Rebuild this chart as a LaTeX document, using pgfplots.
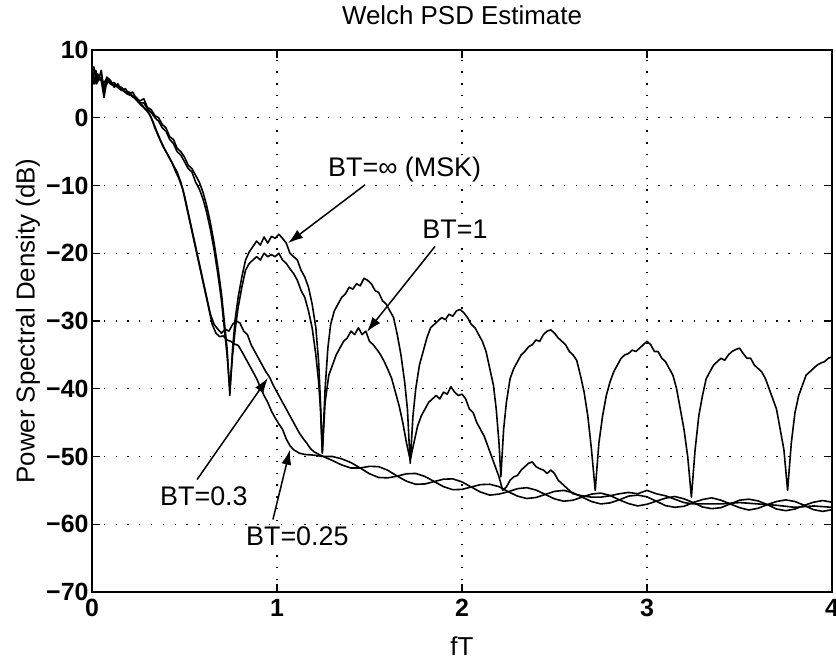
\documentclass[border=0pt]{standalone}
\usepackage{pgfplots}
\pgfplotsset{compat=1.18}
\usepackage{fontspec}
\setmainfont{Liberation Sans}
\usetikzlibrary{arrows.meta}
\tikzset{psd/.style={black, line width=1.6bp, mark=none, line join=round}}
\begin{document}
\begin{tikzpicture}
\begin{axis}[
  scale only axis, width=740bp, height=542bp,
  xmin=0, xmax=4, ymin=-70, ymax=10,
  xtick={0,1,2,3,4}, xticklabels={0,1,2,3,4},
  ytick={-70,-60,-50,-40,-30,-20,-10,0,10},
  yticklabels={−70,−60,−50,−40,−30,−20,−10,0,10},
  tick label style={font=\fontsize{25}{25}\selectfont\bfseries},
  xticklabel style={yshift=-4bp},
  grid=major,
  grid style={black, line width=1.1bp, dash pattern=on 1.3bp off 10.5bp},
  axis line style={line width=1.8bp},
  tick align=inside, major tick length=8bp, tick style={black, line width=1.2bp},
  title={Welch PSD Estimate},
  title style={font=\fontsize{26}{26}\selectfont, at={(axis description cs:0.5,1.053)}, anchor=center},
  xlabel={fT},
  xlabel style={font=\fontsize{26}{26}\selectfont, at={(axis description cs:0.5,-0.0995)}, anchor=center},
  ylabel={Power Spectral Density (dB)},
  ylabel style={font=\fontsize{26}{26}\selectfont, at={(axis description cs:-0.0865,0.5)}, anchor=center},
]
% MSK (BT = infinity)
\addplot[psd] table {
x y
0 7.5
0.01 5
0.02 6.5
0.035 5.5
0.05 7
0.065 4
0.08 6
0.1 5.5
0.12 4.5
0.14 5
0.16 4
0.18 4.3
0.2 3.5
0.22 3.8
0.24 2.8
0.26 2.5
0.28 2.8
0.3 1.5
0.32 1.2
0.34 0.3
0.36 0
0.38 -1
0.4 -1.5
0.42 -2.8
0.44 -3.2
0.46 -4.5
0.48 -5
0.5 -5.8
0.52 -7
0.54 -7.5
0.56 -8.5
0.58 -9.5
0.6 -11
0.62 -13
0.64 -15.5
0.66 -18.5
0.68 -22
0.7 -26
0.715 -30
0.73 -34
0.745 -41
0.76 -34
0.775 -29.5
0.79 -26.5
0.81 -23.5
0.83 -21
0.85 -19.8
0.87 -19
0.89 -18.2
0.91 -18.8
0.93 -17.6
0.95 -18.5
0.97 -17.5
0.99 -17.8
1.01 -17.2
1.03 -17.8
1.05 -18.5
1.07 -20
1.09 -20.5
1.11 -21
1.13 -22.5
1.15 -23.5
1.17 -25
1.19 -27.5
1.21 -31
1.225 -36
1.235 -42
1.245 -49.5
1.26 -40
1.275 -34
1.29 -30.5
1.31 -28.5
1.33 -27.5
1.35 -26.5
1.37 -26
1.39 -25
1.41 -25.3
1.43 -24.5
1.45 -24.8
1.47 -23.7
1.49 -24
1.51 -24.5
1.53 -25.5
1.55 -25.8
1.57 -27
1.59 -27.5
1.61 -28.5
1.63 -29.5
1.65 -32
1.67 -35
1.69 -39
1.705 -43
1.72 -51
1.735 -44
1.75 -40
1.77 -36.5
1.79 -34.5
1.81 -32.5
1.83 -31
1.85 -30.5
1.87 -30
1.89 -29.5
1.91 -29.8
1.93 -29
1.95 -29.3
1.97 -28.5
1.99 -28.3
2.01 -28.8
2.03 -29.5
2.05 -30.5
2.07 -31
2.09 -32
2.11 -33
2.13 -34.5
2.15 -37
2.17 -39.5
2.185 -43
2.2 -48
2.21 -53
2.225 -46
2.24 -42
2.26 -38.5
2.28 -37
2.3 -36
2.32 -35
2.34 -34.5
2.36 -33.8
2.38 -33.5
2.4 -32.8
2.42 -33
2.44 -32
2.46 -31.5
2.48 -31.3
2.5 -31.8
2.52 -32.5
2.54 -33
2.56 -33.5
2.58 -34.5
2.6 -35
2.62 -35.8
2.64 -38
2.66 -40.5
2.68 -44
2.7 -49
2.72 -55
2.74 -48
2.76 -44
2.78 -41
2.8 -39
2.82 -37.5
2.84 -36.5
2.86 -35.5
2.88 -35
2.9 -34.8
2.92 -34.3
2.94 -34.5
2.96 -34
2.98 -33.5
3.0 -33
3.02 -33.5
3.04 -34.5
3.06 -34.5
3.08 -35.5
3.1 -36
3.12 -37
3.14 -38
3.16 -40
3.18 -43
3.2 -46
3.22 -50
3.24 -56
3.26 -49
3.28 -44
3.3 -41
3.32 -38.5
3.34 -37.5
3.36 -36.5
3.38 -36
3.4 -35.5
3.42 -35.8
3.44 -35
3.46 -34.5
3.48 -34.2
3.5 -34
3.52 -34.8
3.54 -35.5
3.56 -35.5
3.58 -36.5
3.6 -37
3.62 -37.5
3.64 -38.5
3.66 -40
3.68 -41.5
3.7 -43
3.72 -46
3.74 -49
3.76 -55
3.78 -48
3.8 -43.5
3.82 -41
3.84 -39.5
3.86 -38
3.88 -37.5
3.9 -37
3.92 -36.5
3.94 -36.2
3.96 -36
3.98 -35.5
4.0 -35.3
};
% BT = 1
\addplot[psd] table {
x y
0 6.5
0.01 7.5
0.025 5
0.04 6
0.06 5
0.08 5.8
0.1 5
0.12 4.8
0.14 4.5
0.16 4.2
0.18 3.8
0.2 3.8
0.22 3.2
0.24 3
0.26 2.2
0.28 2.2
0.3 1.3
0.32 0.8
0.34 0
0.36 -0.5
0.38 -1.5
0.4 -2
0.42 -3.2
0.44 -3.8
0.46 -5
0.48 -5.5
0.5 -6.5
0.52 -7.5
0.54 -8
0.56 -9.5
0.58 -10.5
0.6 -12
0.62 -14
0.64 -16.5
0.66 -19.5
0.68 -23
0.7 -27
0.715 -31
0.73 -35
0.745 -40
0.76 -35
0.775 -31
0.79 -28
0.81 -25
0.83 -22.5
0.85 -21.5
0.87 -21
0.89 -20.5
0.91 -21
0.93 -20
0.95 -20.5
0.97 -20.2
0.99 -20.5
1.01 -20
1.03 -21
1.05 -21.5
1.07 -22.3
1.09 -23
1.11 -24
1.13 -25.5
1.15 -26.5
1.17 -28.5
1.19 -31
1.21 -35
1.225 -39
1.235 -43
1.245 -49.5
1.26 -42
1.28 -38
1.3 -36.5
1.32 -35
1.34 -34
1.36 -33
1.38 -32.5
1.4 -31.5
1.42 -32
1.44 -31
1.46 -32
1.48 -31.5
1.5 -33
1.52 -33.5
1.54 -34.2
1.56 -35
1.58 -36
1.6 -37.2
1.62 -38.5
1.64 -40.5
1.66 -42.5
1.68 -45
1.7 -48
1.72 -50.5
1.74 -48
1.76 -45.5
1.78 -44
1.8 -43
1.82 -42
1.84 -41.5
1.86 -41
1.88 -41.5
1.9 -40.5
1.92 -40.8
1.94 -39.7
1.96 -40.5
1.98 -41
2.0 -40.8
2.02 -41.5
2.04 -43
2.06 -43.5
2.08 -45
2.1 -46
2.12 -47
2.14 -48.5
2.16 -50
2.18 -51.5
2.2 -53
2.22 -55
2.24 -54.5
2.26 -53.5
2.28 -53
2.3 -52.8
2.32 -52
2.34 -51.5
2.36 -51
2.38 -50.8
2.4 -51.5
2.42 -51.8
2.44 -52
2.46 -52.5
2.48 -52
2.5 -52.5
2.52 -53.5
2.54 -54
2.56 -54.5
2.58 -55
2.6 -55.5
2.65 -55.8
2.7 -56
2.75 -56
2.8 -55.8
2.85 -55.5
2.9 -55.3
2.95 -55.5
3.0 -55
3.05 -55.5
3.1 -55.8
3.15 -56.3
3.2 -56.8
3.25 -57
3.3 -57
3.4 -57
3.5 -56.8
3.6 -57
3.7 -57.2
3.8 -57.5
3.9 -57.3
4.0 -57.5
};
% BT = 0.3
\addplot[psd] table {
x y
0 7
0.015 5
0.03 6.5
0.05 5.5
0.065 3
0.08 5.5
0.1 5
0.12 5.2
0.14 4.5
0.16 4.5
0.18 3.8
0.2 3.5
0.22 3.2
0.24 2.8
0.26 2
0.28 1.5
0.3 1
0.32 0
0.34 -1.5
0.36 -2.8
0.38 -4
0.4 -5
0.42 -6
0.44 -7
0.46 -8
0.48 -9.5
0.5 -11.5
0.52 -14
0.54 -16.5
0.56 -19
0.58 -21.5
0.6 -24
0.62 -26.5
0.64 -29
0.66 -30.5
0.68 -31.2
0.7 -31.8
0.72 -31.2
0.74 -31.5
0.76 -30.5
0.78 -30
0.8 -30.3
0.82 -31.5
0.84 -32
0.86 -33.5
0.88 -34.5
0.9 -35.5
0.92 -36.5
0.94 -37.5
0.96 -38.3
0.98 -39.5
1.0 -40.5
1.02 -41.5
1.04 -42.5
1.06 -43.5
1.08 -44.5
1.1 -45.5
1.12 -46.5
1.14 -47.3
1.16 -48
1.18 -48.8
1.2 -49.3
1.22 -49.6
1.25 -50
1.3 -50.0
1.35 -50.35
1.4 -50.9
1.45 -51.7
1.5 -52.55
1.55 -53.1
1.6 -53.15
1.65 -52.9
1.7 -52.55
1.75 -52.5
1.8 -52.95
1.85 -53.7
1.9 -54.45
1.95 -54.9
2.0 -54.85
2.05 -54.5
2.1 -54.15
2.15 -54.1
2.2 -54.45
2.25 -55.2
2.3 -55.85
2.35 -56.2
2.4 -56.05
2.45 -55.6
2.5 -55.15
2.55 -55
2.6 -55.35
2.65 -56
2.7 -56.65
2.75 -57
2.8 -56.85
2.85 -56.4
2.9 -55.85
2.95 -55.7
3.0 -55.95
3.05 -56.6
3.1 -57.25
3.15 -57.5
3.2 -57.35
3.25 -56.8
3.3 -56.35
3.35 -56.1
3.4 -56.45
3.45 -57
3.5 -57.55
3.55 -57.9
3.6 -57.65
3.65 -57.1
3.7 -56.65
3.75 -56.4
3.8 -56.65
3.85 -57.2
3.9 -57.85
3.95 -58.1
4.0 -57.85
};
% BT = 0.25
\addplot[psd] table {
x y
0 6
0.02 7
0.035 5.5
0.05 6
0.07 4.5
0.09 5.5
0.11 4.8
0.13 4.8
0.15 4.2
0.17 4
0.19 3.5
0.21 3.3
0.23 2.9
0.25 2.3
0.27 1.9
0.29 1.2
0.31 0.6
0.33 -0.6
0.35 -2
0.37 -3.3
0.39 -4.5
0.41 -5.5
0.43 -6.5
0.45 -7.8
0.47 -9
0.49 -10.5
0.51 -13
0.53 -15.5
0.55 -18
0.57 -20.5
0.59 -23
0.61 -25.5
0.63 -28
0.65 -30.5
0.67 -31.8
0.69 -32.3
0.71 -32.2
0.73 -32.8
0.75 -33
0.77 -33.4
0.79 -33.6
0.81 -34.5
0.83 -35.5
0.85 -36.5
0.87 -37.5
0.89 -38.5
0.91 -39.8
0.93 -41
0.95 -42
0.97 -43.3
0.99 -44.3
1.01 -45.2
1.03 -46
1.05 -47.4
1.07 -48.4
1.09 -49
1.12 -49.5
1.15 -49.7
1.2 -49.8
1.25 -50
1.3 -50.6
1.35 -51.25
1.4 -51.7
1.45 -51.7
1.5 -51.45
1.55 -51.5
1.6 -52.05
1.65 -52.9
1.7 -53.65
1.75 -54.1
1.8 -54.05
1.85 -53.7
1.9 -53.35
1.95 -53.3
2.0 -53.75
2.05 -54.5
2.1 -55.25
2.15 -55.7
2.2 -55.55
2.25 -55.2
2.3 -54.75
2.35 -54.6
2.4 -54.95
2.45 -55.6
2.5 -56.25
2.55 -56.6
2.6 -56.45
2.65 -56
2.7 -55.55
2.75 -55.4
2.8 -55.75
2.85 -56.4
2.9 -56.95
2.95 -57.3
3.0 -57.05
3.05 -56.6
3.1 -56.15
3.15 -55.9
3.2 -56.25
3.25 -56.8
3.3 -57.45
3.35 -57.7
3.4 -57.55
3.45 -57
3.5 -56.45
3.55 -56.3
3.6 -56.55
3.65 -57.1
3.7 -57.75
3.75 -58
3.8 -57.75
3.85 -57.2
3.9 -56.75
3.95 -56.5
4.0 -56.75
};
% annotations
\begin{scope}[every node/.style={font=\fontsize{27}{27}\selectfont, fill=white, inner sep=1bp}]
\node at (axis cs:1.69,-7.7) {BT=∞ (MSK)};
\node at (axis cs:1.962,-16.5) {BT=1};
\node at (axis cs:0.605,-55.8) {BT=0.3};
\node at (axis cs:1.11,-61.7) {BT=0.25};
\end{scope}
\begin{scope}[line width=1.5bp, -{Latex[length=15bp,width=10bp]}]
\draw (axis cs:1.476,-9.9) -- (axis cs:1.06,-18.5);
\draw (axis cs:1.854,-19.0) -- (axis cs:1.486,-31.6);
\draw (axis cs:0.568,-53.4) -- (axis cs:0.951,-38.4);
\draw (axis cs:0.978,-59.3) -- (axis cs:1.07,-49);
\end{scope}
\end{axis}
\pgfresetboundingbox
\useasboundingbox (-92bp,-69bp) rectangle (744bp,592bp);
\end{tikzpicture}
\end{document}
